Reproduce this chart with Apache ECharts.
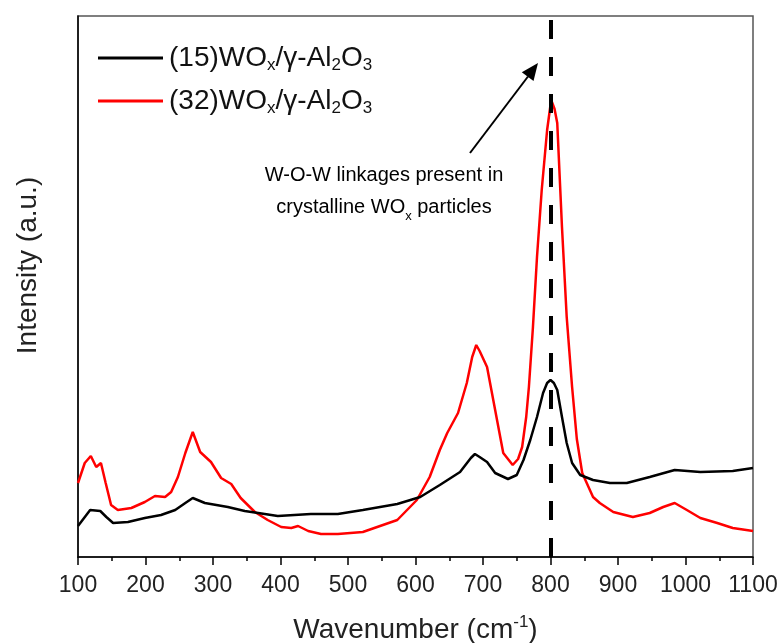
<!DOCTYPE html>
<html>
<head>
<meta charset="utf-8">
<script src="https://cdn.jsdelivr.net/npm/echarts@6/dist/echarts.min.js"></script>
<style>
  html, body { margin: 0; padding: 0; background: #fff; }
  #chart { width: 782px; height: 643px; }
</style>
</head>
<body>
<div id="chart"></div>
<script>
// Raman spectra of the two WOx/γ-Al2O3 samples (intensity in arbitrary units)
const wn15 = [100,118,133,142,152,174,199,223,244,259,270,288,322,347,367,396,445,485,522,573,607,636,666,682,688,695,706,718,737,750,760,770,780,789,795,800,805,810,817,824,832,844,863,888,913,947,984,1022,1070,1100];
const int15 = [31,47,46,40,34,35,39,42,47,54,59,54,50,46,44,41,43,43,47,53,60,72,85,99,103,100,95,84,78,82,97,117,140,164,174,177,174,167,140,114,94,82,77,74,74,80,87,85,86,89];

const wn32 = [100,110,119,127,134,141,149,159,179,199,214,229,238,248,259,270,281,297,312,327,341,362,381,401,416,426,441,460,485,522,573,602,621,636,647,663,676,684,690,695,706,718,730,744,752,758,764,768,774,780,787,795,801,806,810,817,824,832,839,847,863,873,893,922,947,967,984,1002,1022,1047,1070,1100];
const int32 = [74,94,101,90,94,74,52,47,49,55,61,60,65,80,104,125,105,95,79,73,59,45,37,30,29,31,26,23,23,25,37,57,80,107,124,144,174,200,212,206,190,147,104,92,98,110,140,170,230,300,367,427,457,448,434,330,240,170,118,84,60,54,45,40,44,50,54,47,39,34,29,26];

const seriesNames = ['(15)WOx/γ-Al2O3', '(32)WOx/γ-Al2O3'];
const legendRich = ['{n|(15)WO}{s|x}{n|/γ-Al}{s|2}{n|O}{s|3}', '{n|(32)WO}{s|x}{n|/γ-Al}{s|2}{n|O}{s|3}'];
const xTicks = { min: 100, max: 1100, step: 100 };
const markerWavenumber = 800;

const pairs = (xs, ys) => xs.map((x, i) => [x, ys[i]]);

const FONT = '"Liberation Sans", Arial, sans-serif';
const chart = echarts.init(document.getElementById('chart'));

chart.setOption({
  animation: false,
  backgroundColor: '#fff',
  grid: {
    left: 78, right: 29, top: 16, bottom: 86,
    outerBoundsMode: 'none',
    containLabel: false,
    show: true, borderColor: '#555', borderWidth: 1.5
  },
  legend: {
    orient: 'vertical',
    left: 93, top: 39,
    icon: 'rect',
    itemWidth: 65, itemHeight: 3, itemGap: 13,
    selectedMode: false,
    data: seriesNames,
    formatter: name => legendRich[seriesNames.indexOf(name)],
    textStyle: {
      fontFamily: FONT,
      color: '#111',
      padding: [0, 0, 0, 1],
      rich: {
        n: { fontSize: 28, fontFamily: FONT, color: '#111', lineHeight: 32 },
        s: { fontSize: 17, fontFamily: FONT, color: '#111', lineHeight: 17, verticalAlign: 'bottom' }
      }
    }
  },
  xAxis: {
    type: 'value',
    min: xTicks.min, max: xTicks.max, interval: xTicks.step,
    name: '{n|Wavenumber (cm}{p|-1}{n|)}',
    nameLocation: 'middle',
    nameGap: 57,
    nameTextStyle: {
      rich: {
        n: { fontSize: 28, fontFamily: FONT, color: '#222', lineHeight: 32 },
        p: { fontSize: 17, fontFamily: FONT, color: '#222', lineHeight: 17, verticalAlign: 'top' }
      }
    },
    axisLine: { lineStyle: { color: '#000', width: 1.5 } },
    axisTick: { inside: false, length: 8, lineStyle: { color: '#000', width: 1.5 } },
    minorTick: { show: true, splitNumber: 2, length: 4, lineStyle: { color: '#000', width: 1.5 } },
    axisLabel: { fontSize: 23, fontFamily: FONT, color: '#222', margin: 17, formatter: v => String(v) },
    splitLine: { show: false }
  },
  yAxis: {
    type: 'value',
    min: 0, max: 541,
    name: 'Intensity (a.u.)',
    nameLocation: 'middle',
    nameGap: 36,
    nameTextStyle: { fontSize: 28, fontFamily: FONT, color: '#222', padding: [0, 0, 0, 42] },
    axisLine: { show: true, lineStyle: { color: '#000', width: 1.5 } },
    axisTick: { show: false },
    axisLabel: { show: false },
    splitLine: { show: false }
  },
  series: [
    {
      name: seriesNames[0],
      type: 'line',
      data: pairs(wn15, int15),
      symbol: 'none',
      color: '#000',
      lineStyle: { color: '#000', width: 2.5 },
      z: 3,
      markLine: {
        silent: true,
        symbol: 'none',
        label: { show: false },
        lineStyle: { color: '#000', width: 4, type: [19, 18] },
        data: [{ xAxis: markerWavenumber }]
      }
    },
    {
      name: seriesNames[1],
      type: 'line',
      data: pairs(wn32, int32),
      symbol: 'none',
      color: '#ff0000',
      lineStyle: { color: '#ff0000', width: 2.5 },
      z: 2
    }
  ],
  graphic: [
    {
      type: 'text',
      x: 384, y: 159,
      style: {
        text: '{n|W-O-W linkages present in}\n{n|crystalline WO}{s|x}{n| particles}',
        align: 'center',
        verticalAlign: 'top',
        fontFamily: FONT,
        rich: {
          n: { fontSize: 20, fontFamily: FONT, color: '#111', lineHeight: 32 },
          s: { fontSize: 13, fontFamily: FONT, color: '#111', lineHeight: 13, verticalAlign: 'bottom' }
        }
      }
    },
    {
      type: 'line',
      shape: { x1: 470, y1: 153, x2: 528, y2: 76.5 },
      style: { stroke: '#000', lineWidth: 2 }
    },
    {
      type: 'polygon',
      shape: { points: [[538, 63], [533.5, 81], [521.8, 72.2]] },
      style: { fill: '#000' }
    }
  ]
});
</script>
</body>
</html>
